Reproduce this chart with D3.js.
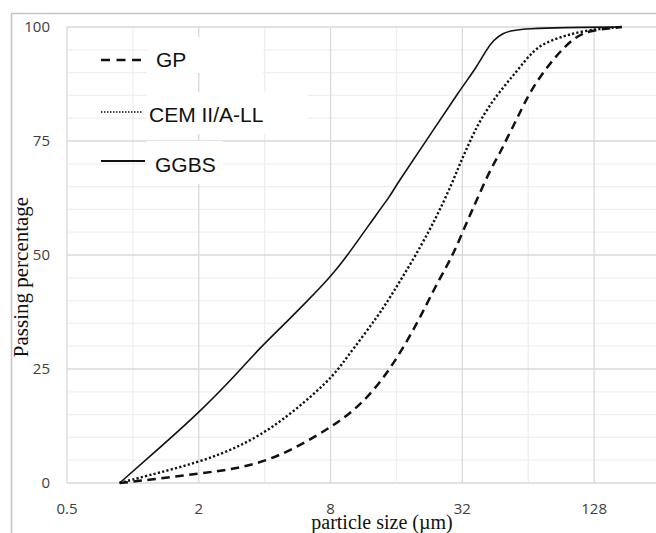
<!DOCTYPE html>
<html>
<head>
<meta charset="utf-8">
<script src="https://cdn.jsdelivr.net/npm/d3@7"></script>
<style>
  body { margin: 0; background: #fff; }
  svg { display: block; }
</style>
</head>
<body>
<svg id="chart" width="656" height="533"></svg>
<script>
// particle size (um) vs passing percentage
const gpSize = [0.87, 1.2, 2, 3.1, 4.7, 8, 11.3, 15.2, 20.5, 23.6, 27.1, 30.1, 34.1, 37.2, 42.8, 47.5, 50.9, 56.6, 65.2, 83.2, 106, 126, 171];
const gpPass = [0, 0.7, 2.1, 3.2, 5.8, 12, 17.5, 25.2, 36.1, 42.3, 47.4, 51.8, 58, 62, 68.6, 72.3, 75.4, 79.6, 86, 93.1, 98.2, 99.3, 100];

const cemSize = [0.87, 1.12, 2, 3.1, 4.7, 8, 9.3, 13.4, 16, 19.1, 22.7, 25.3, 28.6, 31.2, 34.7, 38.5, 45.9, 56.6, 67.6, 80.4, 114, 171];
const cemPass = [0, 1.4, 4.5, 8, 13.1, 22.6, 27, 37, 43, 49, 55.5, 60, 65.5, 70, 75, 79.5, 85.1, 90.2, 95, 97.1, 99.3, 100];

const ggbsSize = [0.87, 1.2, 2, 3.1, 3.8, 4.7, 6, 8, 9.6, 13.4, 14.9, 16, 22, 31.2, 37.2, 41, 44.3, 49, 54.7, 64, 89, 171];
const ggbsPass = [0, 5.9, 15.3, 24.8, 29.6, 33.9, 39, 45.2, 50, 59.9, 62.8, 65.4, 75.2, 86.2, 91.2, 94.8, 97.1, 98.7, 99.3, 99.6, 99.9, 100];

const seriesNames = ['GP', 'CEM II/A-LL', 'GGBS'];

const sizeTicks = [0.5, 2, 8, 32, 128];
const sizeMinor = [1, 4, 16, 64, 256];
const passTicks = [0, 25, 50, 75, 100];
const passMinor = [5, 10, 15, 20, 30, 35, 40, 45, 55, 60, 65, 70, 80, 85, 90, 95];

const svg = d3.select('#chart');

const x = d3.scaleLog().base(2).domain([0.5, 256]).range([67, 660]);
const y = d3.scaleLinear().domain([0, 100]).range([483, 27]);

// outer frame
svg.append('path')
  .attr('d', 'M11.5,540 V13.5 H660')
  .attr('fill', 'none')
  .attr('stroke', '#c4c4c4')
  .attr('stroke-width', 1.5);

const grid = svg.append('g');

// minor grid
grid.selectAll('.hmin').data(passMinor).join('line')
  .attr('x1', x(0.5)).attr('x2', 660)
  .attr('y1', d => y(d)).attr('y2', d => y(d))
  .attr('stroke', '#efefef').attr('stroke-width', 1.3);
grid.selectAll('.vmin').data(sizeMinor).join('line')
  .attr('x1', d => x(d)).attr('x2', d => x(d))
  .attr('y1', y(0)).attr('y2', y(100))
  .attr('stroke', '#efefef').attr('stroke-width', 1.3);

// major grid
grid.selectAll('.hmaj').data(passTicks).join('line')
  .attr('x1', x(0.5)).attr('x2', 660)
  .attr('y1', d => y(d)).attr('y2', d => y(d))
  .attr('stroke', '#d9d9d9').attr('stroke-width', 1.3);
grid.selectAll('.vmaj').data(sizeTicks).join('line')
  .attr('x1', d => x(d)).attr('x2', d => x(d))
  .attr('y1', y(0)).attr('y2', y(100))
  .attr('stroke', '#d9d9d9').attr('stroke-width', 1.3);

// legend text boxes cover the grid
const legendBoxes = [
  { x: 147, y: 37, w: 116, h: 36 },
  { x: 147, y: 92, w: 161, h: 42 },
  { x: 147, y: 141, w: 76, h: 43 },
];
svg.selectAll('.lbox').data(legendBoxes).join('rect')
  .attr('x', d => d.x).attr('y', d => d.y)
  .attr('width', d => d.w).attr('height', d => d.h)
  .attr('fill', '#fff');

// tick labels
const tickFont = '"Open Sans", "Liberation Sans", sans-serif';
svg.selectAll('.ytl').data(passTicks).join('text')
  .attr('x', 50).attr('y', d => y(d) + 5)
  .attr('text-anchor', 'end')
  .attr('font-family', tickFont).attr('font-size', 15)
  .attr('fill', '#404040')
  .text(d => d);
svg.selectAll('.xtl').data(sizeTicks).join('text')
  .attr('x', d => x(d)).attr('y', 514)
  .attr('text-anchor', 'middle')
  .attr('font-family', tickFont).attr('font-size', 15)
  .attr('fill', '#404040')
  .text(d => d);

// axis titles
const titleFont = '"Liberation Serif", "DejaVu Serif", serif';
svg.append('text')
  .attr('transform', 'translate(28,277) rotate(-90)')
  .attr('text-anchor', 'middle')
  .attr('font-family', titleFont).attr('font-size', 21)
  .attr('fill', '#111')
  .text('Passing percentage');
svg.append('text')
  .attr('x', 382).attr('y', 529)
  .attr('text-anchor', 'middle')
  .attr('font-family', titleFont).attr('font-size', 20)
  .attr('fill', '#111')
  .text('particle size (\u00b5m)');

// curves
const line = d3.line()
  .x(d => x(d[0]))
  .y(d => y(d[1]))
  .curve(d3.curveBasis);

const series = [
  { name: seriesNames[0], pts: d3.zip(gpSize, gpPass), width: 2.5, dash: '8.5,5.5' },
  { name: seriesNames[1], pts: d3.zip(cemSize, cemPass), width: 2.4, dash: '2.2,2.2' },
  { name: seriesNames[2], pts: d3.zip(ggbsSize, ggbsPass), width: 1.6, dash: null },
];

svg.selectAll('.curve').data(series).join('path')
  .attr('d', d => line(d.pts))
  .attr('fill', 'none')
  .attr('stroke', '#111')
  .attr('stroke-width', d => d.width)
  .attr('stroke-dasharray', d => d.dash);

// legend
const legendItems = [
  { name: seriesNames[0], ly: 60, x2: 144, tx: 156, ty: 67, width: 2.5, dash: '9,6.5' },
  { name: seriesNames[1], ly: 112, x2: 142, tx: 149, ty: 122, width: 1.5, dash: '1.5,1.5' },
  { name: seriesNames[2], ly: 161, x2: 145, tx: 155, ty: 172, width: 2.2, dash: null },
];
const lg = svg.selectAll('.leg').data(legendItems).join('g');
lg.append('line')
  .attr('x1', 101).attr('x2', d => d.x2)
  .attr('y1', d => d.ly).attr('y2', d => d.ly)
  .attr('stroke', '#111')
  .attr('stroke-width', d => d.width)
  .attr('stroke-dasharray', d => d.dash);
lg.append('text')
  .attr('x', d => d.tx).attr('y', d => d.ty)
  .attr('font-family', '"Liberation Sans", Arial, sans-serif')
  .attr('font-size', 21)
  .attr('fill', '#111')
  .text(d => d.name);
</script>
</body>
</html>
